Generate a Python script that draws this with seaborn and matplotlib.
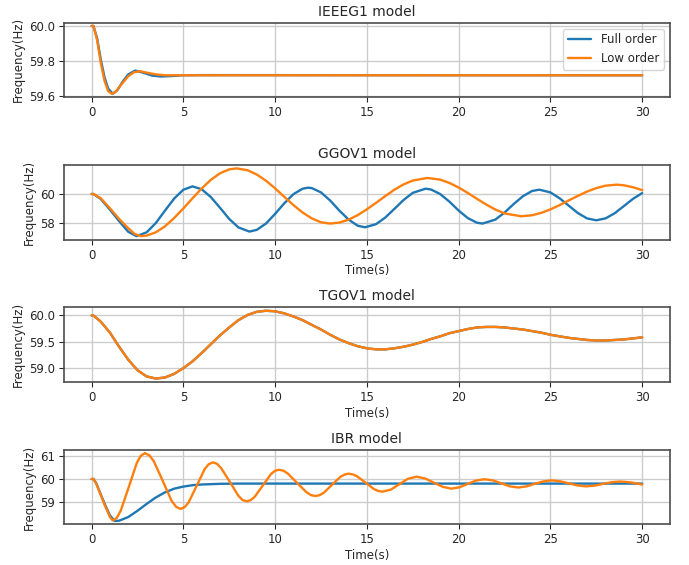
import matplotlib
matplotlib.use("Agg")
import matplotlib.pyplot as plt
import seaborn as sns

# IEEEG1 model
ieeeg1_full_t = [0, 0.1, 0.3, 0.5, 0.7, 0.9, 1.15, 1.4, 1.7, 2.0, 2.38, 2.8, 3.3, 3.8, 4.4, 5.0, 6.0, 30.0]
ieeeg1_full = [60.0, 60.0, 59.93, 59.81, 59.71, 59.645, 59.615, 59.635, 59.685, 59.725, 59.747, 59.735,
               59.718, 59.713, 59.716, 59.72, 59.721, 59.72]
ieeeg1_low_t = [0, 0.1, 0.3, 0.5, 0.7, 0.9, 1.1, 1.3, 1.6, 2.0, 2.3, 2.65, 3.0, 3.5, 4.0, 5.0, 30.0]
ieeeg1_low = [60.0, 60.0, 59.92, 59.79, 59.69, 59.63, 59.615, 59.625, 59.665, 59.715, 59.737, 59.743,
              59.735, 59.725, 59.72, 59.72, 59.72]

# GGOV1 model
ggov1_full_t = [0, 0.1, 0.5, 1.0, 1.5, 2.0, 2.45, 3.0, 3.5, 4.0, 4.5, 5.0, 5.5, 6.0, 6.5, 7.0, 7.5, 8.0, 8.6,
                9.0, 9.5, 10.0, 10.5, 11.0, 11.5, 11.8, 12.0, 12.5, 13.0, 13.5, 14.0, 14.5, 14.9,
                15.5, 16.0, 16.5, 17.0, 17.5, 18.2, 18.5, 19.0, 19.5, 20.0, 20.5, 21.0, 21.3,
                22.0, 22.5, 23.0, 23.5, 24.0, 24.4, 25.0, 25.5, 26.0, 26.5, 27.0, 27.5,
                28.0, 28.5, 29.0, 29.5, 30.0]
ggov1_full = [60.0, 60.0, 59.65, 58.9, 58.1, 57.35, 57.05, 57.32, 57.97, 58.84, 59.68, 60.30, 60.53,
              60.33, 59.78, 59.03, 58.25, 57.66, 57.37, 57.49, 57.93, 58.61, 59.35, 59.99, 60.37, 60.44,
              60.41, 60.11, 59.54, 58.84, 58.21, 57.78, 57.67, 57.89, 58.35, 58.96, 59.58, 60.08, 60.37,
              60.31, 59.99, 59.46, 58.84, 58.31, 57.99, 57.93, 58.21, 58.70, 59.30, 59.84, 60.21, 60.30,
              60.11, 59.70, 59.18, 58.66, 58.29, 58.16, 58.29, 58.65, 59.15, 59.66, 60.06]
ggov1_low_t = [0, 0.1, 0.5, 1.0, 1.5, 2.0, 2.35, 2.7, 3.0, 3.5, 4.0, 4.5, 5.0, 5.5, 6.0, 6.5, 7.0, 7.5, 7.9,
               8.5, 9.0, 9.5, 10.0, 10.5, 11.0, 11.5, 12.0, 12.5, 13.0, 13.5, 14.0, 14.5, 15.0, 15.5,
               16.0, 16.5, 17.0, 17.5, 18.3, 19.0, 19.5, 20.0, 20.5, 21.0, 21.5, 22.0, 22.5, 23.4,
               24.0, 24.5, 25.0, 25.5, 26.0, 26.5, 27.0, 27.5, 28.0, 28.6, 29.0, 29.5, 30.0]
ggov1_low = [60.0, 60.0, 59.7, 59.0, 58.25, 57.6, 57.2, 57.05, 57.09, 57.32, 57.74, 58.32, 58.99, 59.70,
             60.39, 60.99, 61.45, 61.72, 61.79, 61.66, 61.36, 60.93, 60.39, 59.80, 59.22, 58.70, 58.29,
             58.02, 57.93, 58.00, 58.20, 58.52, 58.93, 59.38, 59.85, 60.30, 60.67, 60.94, 61.12, 61.00,
             60.77, 60.45, 60.07, 59.66, 59.26, 58.91, 58.64, 58.44, 58.51, 58.68, 58.92, 59.22, 59.55,
             59.87, 60.17, 60.41, 60.58, 60.65, 60.61, 60.47, 60.27]

# TGOV1 model (full and low order lie on top of each other)
tgov1_t = [0, 0.1, 0.5, 1.0, 1.5, 2.0, 2.5, 3.0, 3.5, 4.0, 4.5, 5.0, 5.5, 6.0, 6.5, 7.0, 7.5, 8.0, 8.5,
           9.0, 9.5, 10.0, 10.5, 11.0, 11.5, 12.0, 12.5, 13.0, 13.5, 14.0, 14.5, 15.0, 15.5, 16.0,
           16.5, 17.0, 17.5, 18.0, 18.5, 19.0, 19.5, 20.0, 20.5, 21.0, 21.5, 22.0, 22.5, 23.0, 23.5,
           24.0, 24.5, 25.0, 25.5, 26.0, 26.5, 27.0, 27.5, 28.0, 28.5, 29.0, 29.5, 30.0]
tgov1_full = [60.0, 60.0, 59.88, 59.67, 59.4, 59.15, 58.95, 58.83, 58.79, 58.81, 58.88, 58.99, 59.12, 59.28,
              59.45, 59.62, 59.77, 59.91, 60.01, 60.07, 60.09, 60.08, 60.04, 59.98, 59.91, 59.82, 59.73,
              59.63, 59.54, 59.47, 59.41, 59.37, 59.35, 59.35, 59.37, 59.40, 59.44, 59.49, 59.55, 59.60,
              59.66, 59.70, 59.74, 59.77, 59.78, 59.78, 59.77, 59.75, 59.73, 59.70, 59.67, 59.63, 59.60,
              59.57, 59.55, 59.53, 59.52, 59.52, 59.53, 59.54, 59.56, 59.58]
tgov1_low = list(tgov1_full)

# IBR model
ibr_full_t = [0, 0.1, 0.25, 0.5, 0.75, 1.0, 1.25, 1.5, 2.0, 2.5, 3.0, 3.5, 4.0, 4.5, 5.0, 5.5, 6.0, 7.0, 8.0, 30.0]
ibr_full = [60.0, 60.0, 59.82, 59.33, 58.85, 58.42, 58.18, 58.19, 58.35, 58.62, 58.92, 59.2, 59.42, 59.58,
            59.67, 59.73, 59.76, 59.79, 59.8, 59.8]
ibr_low_t = [0, 0.1, 0.25, 0.5, 0.75, 1.0, 1.15, 1.37, 1.59, 2.03, 2.46, 2.68, 2.9, 3.14, 3.39, 3.88,
             4.36, 4.61, 4.85, 5.07, 5.29, 5.73, 6.16, 6.38, 6.6, 6.83, 7.06, 7.53, 7.99, 8.22, 8.45,
             8.67, 8.89, 9.33, 9.76, 9.98, 10.2, 10.45, 10.7, 11.2, 11.7, 11.95, 12.2, 12.43, 12.65,
             13.1, 13.55, 13.78, 14.0, 14.23, 14.46, 14.93, 15.39, 15.62, 15.85, 16.31, 16.78, 17.24,
             17.7, 18.18, 18.65, 19.13, 19.6, 20.05, 20.5, 20.95, 21.4, 21.86, 22.33, 22.79, 23.25,
             23.7, 24.15, 24.6, 25.05, 25.53, 26.0, 26.48, 26.95, 27.41, 27.88, 28.34, 28.8, 29.4, 30.0]
ibr_low = [60.0, 60.0, 59.8, 59.3, 58.8, 58.35, 58.2, 58.31, 58.63, 59.66, 60.69, 61.01, 61.12, 61.03,
           60.77, 59.91, 59.05, 58.79, 58.7, 58.78, 58.99, 59.71, 60.43, 60.64, 60.72, 60.66, 60.47,
           59.88, 59.28, 59.09, 59.03, 59.08, 59.23, 59.72, 60.2, 60.35, 60.40, 60.36, 60.23, 59.83,
           59.43, 59.30, 59.26, 59.30, 59.40, 59.75, 60.09, 60.19, 60.23, 60.20, 60.12, 59.84, 59.56,
           59.48, 59.45, 59.54, 59.78, 60.01, 60.10, 60.02, 59.84, 59.66, 59.58, 59.64, 59.79, 59.93,
           59.99, 59.94, 59.81, 59.68, 59.63, 59.68, 59.79, 59.89, 59.94, 59.90, 59.81, 59.72, 59.68,
           59.71, 59.79, 59.86, 59.89, 59.85, 59.76]

panels = [
    ("IEEEG1 model", ieeeg1_full_t, ieeeg1_full, ieeeg1_low_t, ieeeg1_low, [59.6, 59.8, 60.0], False),
    ("GGOV1 model", ggov1_full_t, ggov1_full, ggov1_low_t, ggov1_low, [58, 60], True),
    ("TGOV1 model", tgov1_t, tgov1_full, tgov1_t, tgov1_low, [59.0, 59.5, 60.0], True),
    ("IBR model", ibr_full_t, ibr_full, ibr_low_t, ibr_low, [59, 60, 61], True),
]

sns.set_style("ticks", {"axes.grid": True, "grid.color": "#cccccc", "axes.edgecolor": "0.3"})
plt.rcParams["font.family"] = ["DejaVu Sans"]

fig, axes = plt.subplots(4, 1, figsize=(6.89, 5.65), dpi=100)
fig.subplots_adjust(left=0.093, right=0.972, bottom=0.072, top=0.960, hspace=0.91)

blue, orange = "#1f77b4", "#ff7f0e"
for i, (ax, (title, t_full, y_full, t_low, y_low, yticks, xlab)) in enumerate(zip(axes, panels)):
    sns.lineplot(x=t_full, y=y_full, ax=ax, color=blue, linewidth=1.7,
                 label="Full order" if i == 0 else None)
    sns.lineplot(x=t_low, y=y_low, ax=ax, color=orange, linewidth=1.7,
                 label="Low order" if i == 0 else None)
    ax.set_title(title, fontsize=10, pad=5)
    ax.set_yticks(yticks)
    ax.set_xticks([0, 5, 10, 15, 20, 25, 30])
    ax.set_ylabel("Frequency(Hz)", fontsize=8.5, labelpad=3)
    ax.set_xlabel("Time(s)" if xlab else "", fontsize=8.5, labelpad=2)
    ax.tick_params(labelsize=8.5, length=3.5, pad=3)
    for s in ax.spines.values():
        s.set_linewidth(1.2)
    ax.grid(True, linewidth=1)

axes[0].legend(loc="upper right", fontsize=8.5)

fig.savefig("out.png", dpi=100)
